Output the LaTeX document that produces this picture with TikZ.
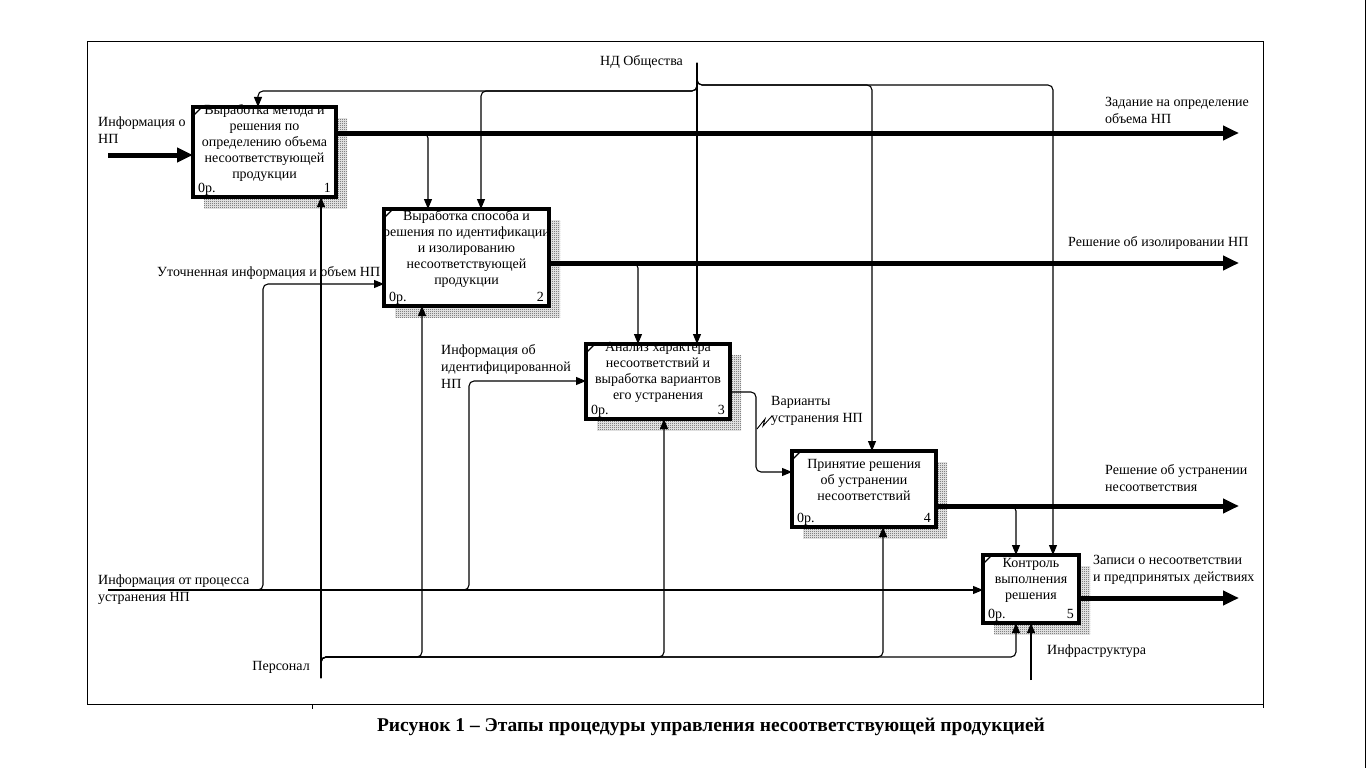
\documentclass[tikz,border=0pt]{standalone}
\usepackage{fontspec}
\setmainfont{Liberation Serif}
\usetikzlibrary{arrows.meta,patterns.meta,calc,shadows}
\tikzdeclarepattern{
  name=checker,
  type=uncolored,
  bounding box={(0pt,0pt) and (2pt,2pt)},
  tile size={(2pt,2pt)},
  code={\fill (0pt,0pt) rectangle (1pt,1pt); \fill (1pt,1pt) rectangle (2pt,2pt);}
}
\begin{document}
\begin{tikzpicture}[x=1pt,y=-1pt,
  txt/.style={font=\fontsize{14}{17}\selectfont, inner sep=0pt, align=left},
  boxtxt/.style={font=\fontsize{14}{16}\selectfont, inner sep=0pt, align=center},
  idef/.style={draw, line width=3.2pt, fill=white, inner sep=0pt, outer sep=0pt,
    general shadow={shadow xshift=11pt, shadow yshift=-11pt, pattern=checker, pattern color=black}},
  thinarrow/.style={line width=1.1pt, -{Triangle[length=10pt,width=8pt]}, rounded corners=5pt},
  thickarrow/.style={line width=5pt, -{Triangle[length=16pt,width=14pt]}},
  tick/.style={line width=1.2pt}
]
\useasboundingbox (0,0) rectangle (1366,768);
\fill[white] (0,0) rectangle (1366,768);
% frame
\draw[line width=1pt] (87,42) rectangle (1263,704);
\draw[line width=1pt] (312,704) -- (312,709);
\draw[line width=1pt] (1263,704) -- (1263,708);
\draw[line width=1pt] (1365,0) -- (1365,768);

% boxes
\node[idef, minimum width=143pt, minimum height=90pt] (b1) at (264.5,152) {};
\node[idef, minimum width=165pt, minimum height=97pt] (b2) at (466.5,257.5) {};
\node[idef, minimum width=144pt, minimum height=75pt] (b3) at (658,381.5) {};
\node[idef, minimum width=144pt, minimum height=76pt] (b4) at (864,489) {};
\node[idef, minimum width=96pt, minimum height=68pt] (b5) at (1031,589) {};

\foreach \b/\n in {b1/1,b2/2,b3/3,b4/4,b5/5}{
  \draw[tick] ($(\b.north west)+(0,9)$) -- ($(\b.north west)+(9,0)$);
  \node[boxtxt, anchor=base west] (\b zero) at ($(\b.south west)+(5,-5)$) {0р.};
  \node[boxtxt, anchor=base east] (\b num) at ($(\b.south east)+(-5,-5)$) {\n};
}

\node[boxtxt] (t1) at ($(b1.center)+(0,-9)$) {Выработка метода и\\решения по\\определению объема\\несоответствующей\\продукции};
\node[boxtxt] (t2) at ($(b2.center)+(0,-9)$) {Выработка способа и\\решения по идентификации\\и изолированию\\несоответствующей\\продукции};
\node[boxtxt] (t3) at ($(b3.center)+(0,-9)$) {Анализ характера\\несоответствий и\\выработка вариантов\\его устранения};
\node[boxtxt] (t4) at ($(b4.center)+(0,-9)$) {Принятие решения\\об устранении\\несоответствий};
\node[boxtxt] (t5) at ($(b5.center)+(0,-9)$) {Контроль\\выполнения\\решения};

% free ends
\coordinate (in1) at (108,155);
\coordinate (in5) at (108,590);
\coordinate (nd) at (697,63);
\coordinate (pers) at (321,678);
\coordinate (infra) at (1031,680);
\coordinate (o1) at (1239,133);
\coordinate (o2) at (1239,263);
\coordinate (o4) at (1239,506);
\coordinate (o5) at (1239,598);

% control arrows (НД Общества)
\draw[thinarrow] (nd) -- ($(b3.north west)+(111,0)$);
\draw[thinarrow] (nd) -- ++(0,22) -| ($(b4.north west)+(80,0)$);
\draw[thinarrow] (nd) -- ++(0,22) -| ($(b5.north west)+(70,0)$);
\draw[thinarrow] (nd) -- ++(0,28) -| ($(b1.north west)+(65,0)$);
\draw[thinarrow] (nd) -- ++(0,28) -| ($(b2.north west)+(97,0)$);

% inputs
\draw[thinarrow] (in5) -- ($(b5.north west)+(0,35)$);
\draw[thinarrow] (in5) -- ++(155,0) |- ($(b2.north west)+(0,75)$);
\draw[thinarrow] (in5) -- ++(361,0) |- ($(b3.north west)+(0,37)$);

% mechanisms
\draw[thinarrow] (pers) -- ($(b1.south west)+(128,0)$);
\draw[thinarrow] (pers) -- ++(0,-21) -| ($(b2.south west)+(38,0)$);
\draw[thinarrow] (pers) -- ++(0,-21) -| ($(b3.south west)+(78,0)$);
\draw[thinarrow] (pers) -- ++(0,-21) -| ($(b4.south west)+(91,0)$);
\draw[thinarrow] (pers) -- ++(0,-21) -| ($(b5.south west)+(33,0)$);
\draw[thinarrow] (infra) -- ($(b5.south west)+(48,0)$);

% branches from outputs
\draw[thinarrow] ($(b1.north east)+(0,26)$) -| ($(b2.north west)+(44,0)$);
\draw[thinarrow] ($(b2.north east)+(0,54)$) -| ($(b3.north west)+(52,0)$);
\draw[thinarrow] ($(b4.north east)+(0,55)$) -| ($(b5.north west)+(33,0)$);
\draw[thinarrow] ($(b3.north east)+(0,48)$) -- ++(26,0) |- ($(b4.north west)+(0,21)$);

% thick arrows
\draw[thickarrow] (in1) -- ($(b1.north west)+(0,48)$);
\draw[thickarrow] ($(b1.north east)+(0,26)$) -- (o1);
\draw[thickarrow] ($(b2.north east)+(0,54)$) -- (o2);
\draw[thickarrow] ($(b4.north east)+(0,55)$) -- (o4);
\draw[thickarrow] ($(b5.north east)+(0,43)$) -- (o5);

% squiggle
\coordinate (sq1) at (757,429);
\draw[line width=0.9pt] (sq1) -- (765,419) -- (763,426) -- (772,416);

% labels
\node[txt, anchor=west] (l1) at (98,130) {Информация о\\НП};
\node[txt, anchor=west] (l2) at (1105,110) {Задание на определение\\объема НП};
\node[txt, anchor=west] (l3) at (1068,243) {Решение об изолировании НП};
\node[txt, anchor=west] (l4) at (157,273) {Уточненная информация и объем НП};
\node[txt, anchor=west] (l5) at (441,366) {Информация об\\идентифицированной\\НП};
\node[txt, anchor=west] (l6) at (771,411) {Варианты\\устранения НП};
\node[txt, anchor=west] (l7) at (1105,478) {Решение об устранении\\несоответствия};
\node[txt, anchor=west] (l8) at (1093,570) {Записи о несоответствии\\и предпринятых действиях};
\node[txt, anchor=west] (l9) at (98,590) {Информация от процесса\\устранения НП};
\node[txt, anchor=east] (l10) at (310,667) {Персонал};
\node[txt, anchor=west] (l11) at (1047,651) {Инфраструктура};
\node[txt, anchor=west] (l12) at (600,62) {НД Общества};

% caption
\node[inner sep=0pt, font=\fontsize{19.5}{22}\selectfont\bfseries] (cap) at (711,727) {Рисунок 1 – Этапы процедуры управления несоответствующей продукцией};
\end{tikzpicture}
\end{document}
